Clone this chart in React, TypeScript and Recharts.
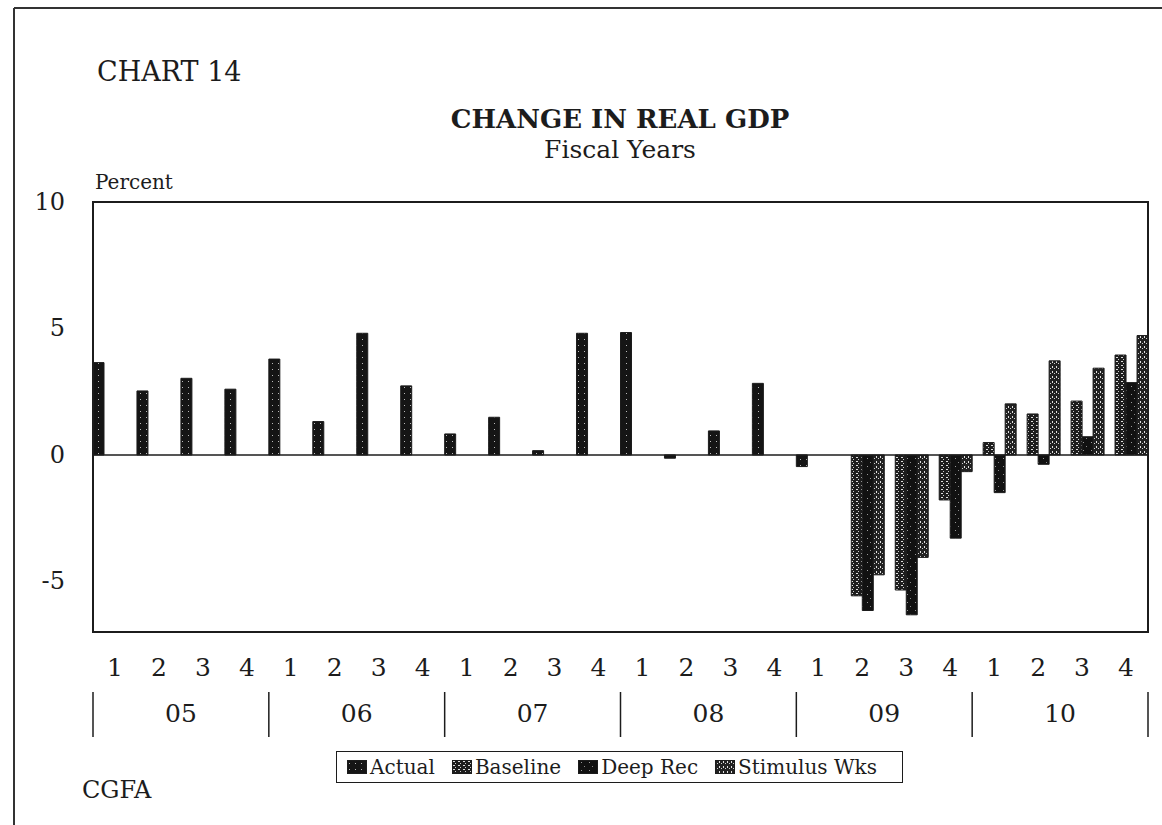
import { BarChart, Bar, XAxis, YAxis, ReferenceLine, ReferenceArea, Legend } from 'recharts';

// fiscal year quarters, FY05 Q1 .. FY10 Q4
const years = ['05', '06', '07', '08', '09', '10'];
const quarterLabels = ['1', '2', '3', '4'];

const actual = [3.65, 2.53, 3.03, 2.6, 3.79, 1.32, 4.81, 2.73, 0.83, 1.49, 0.17, 4.81, 4.84, -0.13, 0.95, 2.83, -0.46, null, null, null, null, null, null, null];
const baseline = [null, null, null, null, null, null, null, null, null, null, null, null, null, null, null, null, null, -5.57, -5.34, -1.78, 0.49, 1.62, 2.13, 3.95];
const deepRec = [null, null, null, null, null, null, null, null, null, null, null, null, null, null, null, null, null, -6.15, -6.32, -3.29, -1.49, -0.37, 0.72, 2.86];
const stimulus = [null, null, null, null, null, null, null, null, null, null, null, null, null, null, null, null, null, -4.74, -4.05, -0.66, 2.02, 3.72, 3.43, 4.72];

const yTicks = [-5, 0, 5, 10];
const Y_MIN = -7;
const Y_MAX = 10;

const data = years.flatMap((year, yi) =>
  quarterLabels.map((q, qi) => {
    const i = yi * 4 + qi;
    return {
      key: `${year}-${q}`,
      quarter: q,
      year,
      actual: actual[i],
      baseline: baseline[i],
      deepRec: deepRec[i],
      stimulus: stimulus[i],
    };
  })
);

const FONT = '"DejaVu Serif", "Liberation Serif", serif';
const INK = '#1c1c1c';

const series = [
  { key: 'actual', name: 'Actual', fill: 'url(#patActual)' },
  { key: 'baseline', name: 'Baseline', fill: 'url(#patBaseline)' },
  { key: 'deepRec', name: 'Deep Rec', fill: 'url(#patDeep)' },
  { key: 'stimulus', name: 'Stimulus Wks', fill: 'url(#patStim)' },
];

const W = 1162;
const H = 825;
const PLOT_LEFT = 93;
const PLOT_RIGHT = 1148;
const PLOT_TOP = 202;
const PLOT_BOTTOM = 632;
const Y_AXIS_W = 40;
const Q_AXIS_H = 48;
const YEAR_AXIS_H = 60;
const YEAR_BAND = (PLOT_RIGHT - PLOT_LEFT) / years.length;

function QuarterTick(props: any) {
  const { x, y, payload, index } = props;
  const q = data[payload?.index ?? index]?.quarter ?? '';
  return (
    <text x={x} y={y + 44} textAnchor="middle" fontFamily={FONT} fontSize={25} fill={INK}>
      {q}
    </text>
  );
}

function YearTick(props: any) {
  const { x, y, payload, index } = props;
  const left = x - YEAR_BAND / 2;
  const right = x + YEAR_BAND / 2;
  const last = index === years.length - 1;
  return (
    <g>
      <line x1={left} x2={left} y1={y + 12} y2={y + 57} stroke={INK} strokeWidth={1.5} />
      {last && <line x1={right} x2={right} y1={y + 12} y2={y + 57} stroke={INK} strokeWidth={1.5} />}
      <text x={x} y={y + 42} textAnchor="middle" fontFamily={FONT} fontSize={25} fill={INK}>
        {payload.value}
      </text>
    </g>
  );
}

function ValueTick(props: any) {
  const { x, y, payload } = props;
  return (
    <text x={x} y={y} dy={8} textAnchor="end" fontFamily={FONT} fontSize={24} fill={INK}>
      {payload.value}
    </text>
  );
}

function LegendSwatch({ fill }: { fill: string }) {
  return (
    <svg width={20} height={14} style={{ marginRight: 3 }}>
      <rect x={0.5} y={0.5} width={19} height={13} fill={fill} stroke={INK} />
    </svg>
  );
}

function renderLegend() {
  return (
    <div
      style={{
        display: 'flex',
        alignItems: 'center',
        height: 32,
        border: `1.5px solid ${INK}`,
        paddingLeft: 10,
        gap: 17,
        fontFamily: FONT,
        fontSize: 20,
        color: INK,
        background: '#fff',
        boxSizing: 'border-box',
      }}
    >
      {series.map(s => (
        <span key={s.key} style={{ display: 'flex', alignItems: 'center', whiteSpace: 'nowrap' }}>
          <LegendSwatch fill={s.fill} />
          {s.name}
        </span>
      ))}
    </div>
  );
}

export default function App() {
  return (
    <div style={{ position: 'absolute', left: 0, top: 0, width: W, height: H, background: '#fff' }}>
      <BarChart
        width={W}
        height={H}
        data={data}
        barCategoryGap={0}
        barGap={0}
        margin={{
          top: PLOT_TOP,
          left: PLOT_LEFT - Y_AXIS_W,
          right: W - PLOT_RIGHT,
          bottom: H - PLOT_BOTTOM - Q_AXIS_H - YEAR_AXIS_H,
        }}
      >
        <defs>
          <pattern id="patActual" width={6} height={6} patternUnits="userSpaceOnUse">
            <rect width={6} height={6} fill="#151515" />
            <rect x={2} y={3} width={1} height={1} fill="#bbb" />
          </pattern>
          <pattern id="patBaseline" width={5} height={4} patternUnits="userSpaceOnUse">
            <rect width={5} height={4} fill="#1d1d1d" />
            <rect x={1} y={1} width={2} height={1} fill="#ddd" />
            <rect x={3} y={3} width={1} height={1} fill="#ccc" />
          </pattern>
          <pattern id="patDeep" width={8} height={8} patternUnits="userSpaceOnUse">
            <rect width={8} height={8} fill="#111" />
            <rect x={3} y={2} width={1} height={1} fill="#999" />
            <rect x={6} y={6} width={1} height={1} fill="#888" />
          </pattern>
          <pattern id="patStim" width={4} height={5} patternUnits="userSpaceOnUse">
            <rect width={4} height={5} fill="#222" />
            <rect x={0} y={1} width={1} height={2} fill="#e0e0e0" />
            <rect x={2} y={3} width={1} height={1} fill="#d0d0d0" />
          </pattern>
        </defs>

        <XAxis
          dataKey="key"
          height={Q_AXIS_H}
          tickLine={false}
          tickSize={0}
          tickMargin={0}
          interval={0}
          axisLine={{ stroke: INK, strokeWidth: 2 }}
          tick={<QuarterTick />}
        />
        <XAxis
          xAxisId="year"
          dataKey="year"
          allowDuplicatedCategory={false}
          height={YEAR_AXIS_H}
          tickLine={false}
          tickSize={0}
          tickMargin={0}
          interval={0}
          axisLine={false}
          tick={<YearTick />}
        />
        <YAxis
          type="number"
          domain={[Y_MIN, Y_MAX]}
          ticks={yTicks}
          width={Y_AXIS_W}
          tickLine={false}
          tickSize={0}
          tickMargin={28}
          interval={0}
          axisLine={{ stroke: INK, strokeWidth: 2 }}
          tick={<ValueTick />}
        />

        {/* plot frame */}
        <ReferenceArea y1={Y_MIN} y2={Y_MAX} fill="none" stroke={INK} strokeWidth={2} />
        <ReferenceLine y={0} stroke={INK} strokeWidth={1.5} />

        {series.map(s => (
          <Bar
            key={s.key}
            dataKey={s.key}
            name={s.name}
            fill={s.fill}
            stroke={INK}
            strokeWidth={1}
            isAnimationActive={false}
          />
        ))}

        <Legend
          layout="horizontal"
          verticalAlign="middle"
          align="center"
          content={renderLegend}
          wrapperStyle={{ left: 336, top: 751, width: 567 }}
        />
      </BarChart>

      <svg width={W} height={H} style={{ position: 'absolute', left: 0, top: 0, pointerEvents: 'none' }}>
        <line x1={14} x2={W} y1={8} y2={8} stroke="#333" strokeWidth={2} />
        <line x1={14} x2={14} y1={8} y2={H} stroke="#333" strokeWidth={2} />
        <text x={97} y={81} fontFamily={FONT} fontSize={27} fill={INK}>CHART 14</text>
        <text x={620} y={128} textAnchor="middle" fontFamily={FONT} fontSize={26} fontWeight="bold" fill={INK}>
          CHANGE IN REAL GDP
        </text>
        <text x={620} y={158} textAnchor="middle" fontFamily={FONT} fontSize={25} fill={INK}>Fiscal Years</text>
        <text x={95} y={189} fontFamily={FONT} fontSize={20} fill={INK}>Percent</text>
        <text x={82} y={798} fontFamily={FONT} fontSize={24} fill={INK}>CGFA</text>
      </svg>
    </div>
  );
}
